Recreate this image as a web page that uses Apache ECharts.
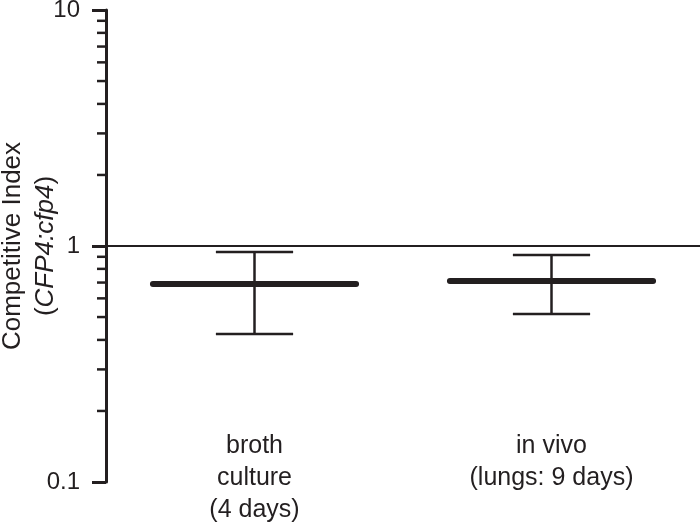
<!DOCTYPE html>
<html>
<head>
<meta charset="utf-8">
<script src="https://cdn.jsdelivr.net/npm/echarts@6/dist/echarts.min.js"></script>
<style>
  html, body { margin: 0; padding: 0; background: #fff; }
  #chart { width: 700px; height: 524px; }
</style>
</head>
<body>
<div id="chart"></div>
<script>
// data
const categories = ['broth\nculture\n(4 days)', 'in vivo\n(lungs: 9 days)']
const means = [0.69, 0.71]
const upper = [0.943, 0.916]
const lower = [0.424, 0.515]
const minorTicks = [0.2, 0.3, 0.4, 0.5, 0.6, 0.7, 0.8, 0.9, 2, 3, 4, 5, 6, 7, 8, 9]

const ink = '#231f20'
const font = 'Liberation Sans, Arial, sans-serif'

const chart = echarts.init(document.getElementById('chart'))

function renderBars(params, api) {
  const x = api.value(0)
  const m = api.coord([x, api.value(1)])
  const hi = api.coord([x, api.value(2)])
  const lo = api.coord([x, api.value(3)])
  const band = api.size([1, 0])[0]
  const mw = band * 0.342
  const cw = band * 0.13
  const thin = { stroke: ink, lineWidth: 2.5 }
  return {
    type: 'group',
    children: [
      { type: 'line', shape: { x1: m[0], y1: hi[1], x2: m[0], y2: lo[1] }, style: thin },
      { type: 'line', shape: { x1: m[0] - cw, y1: hi[1], x2: m[0] + cw, y2: hi[1] }, style: thin },
      { type: 'line', shape: { x1: m[0] - cw, y1: lo[1], x2: m[0] + cw, y2: lo[1] }, style: thin },
      {
        type: 'line',
        shape: { x1: m[0] - mw, y1: m[1], x2: m[0] + mw, y2: m[1] },
        style: { stroke: ink, lineWidth: 6, lineCap: 'round' },
      },
    ],
  }
}

function renderMinor(params, api) {
  const p = api.coord([0, api.value(1)])
  const left = params.coordSys.x
  return {
    type: 'line',
    shape: { x1: left - 9, y1: p[1], x2: left, y2: p[1] },
    style: { stroke: ink, lineWidth: 2.5 },
  }
}

chart.setOption({
  animation: false,
  grid: { left: 106, right: 0, top: 10, bottom: 42, outerBoundsMode: 'none', containLabel: false },
  xAxis: {
    type: 'category',
    data: categories,
    axisLine: { show: false },
    axisTick: { show: false },
    axisLabel: {
      margin: -52,
      color: ink,
      fontSize: 25,
      lineHeight: 32,
      fontFamily: font,
      verticalAlign: 'top',
      interval: 0,
    },
  },
  yAxis: {
    type: 'log',
    logBase: 10,
    min: 0.1,
    max: 10,
    name: '{a|Competitive Index}\n{b|(}{c|CFP4:cfp4}{b|)}',
    nameLocation: 'middle',
    nameGap: 44,
    nameMoveOverlap: false,
    nameRotate: 90,
    nameTextStyle: {
      rich: {
        a: { fontSize: 26, color: ink, fontFamily: font, lineHeight: 33 },
        b: { fontSize: 26, color: ink, fontFamily: font, lineHeight: 33 },
        c: { fontSize: 26, color: ink, fontFamily: font, fontStyle: 'italic', lineHeight: 33 },
      },
    },
    axisLine: { show: true, lineStyle: { color: ink, width: 3 } },
    axisTick: { show: true, length: 14, lineStyle: { color: ink, width: 3 } },
    axisLabel: {
      color: ink,
      fontSize: 24,
      fontFamily: font,
      margin: 26,
      formatter: v => String(+v.toPrecision(3)),
    },
    splitLine: { show: false },
  },
  series: [
    {
      type: 'custom',
      renderItem: renderMinor,
      data: minorTicks.map(v => [0, v]),
      clip: false,
      silent: true,
    },
    {
      type: 'custom',
      renderItem: renderBars,
      data: categories.map((c, i) => [i, means[i], upper[i], lower[i]]),
      markLine: {
        silent: true,
        symbol: 'none',
        label: { show: false },
        lineStyle: { color: ink, width: 2, type: 'solid' },
        data: [{ yAxis: 1 }],
      },
    },
  ],
})
</script>
</body>
</html>
